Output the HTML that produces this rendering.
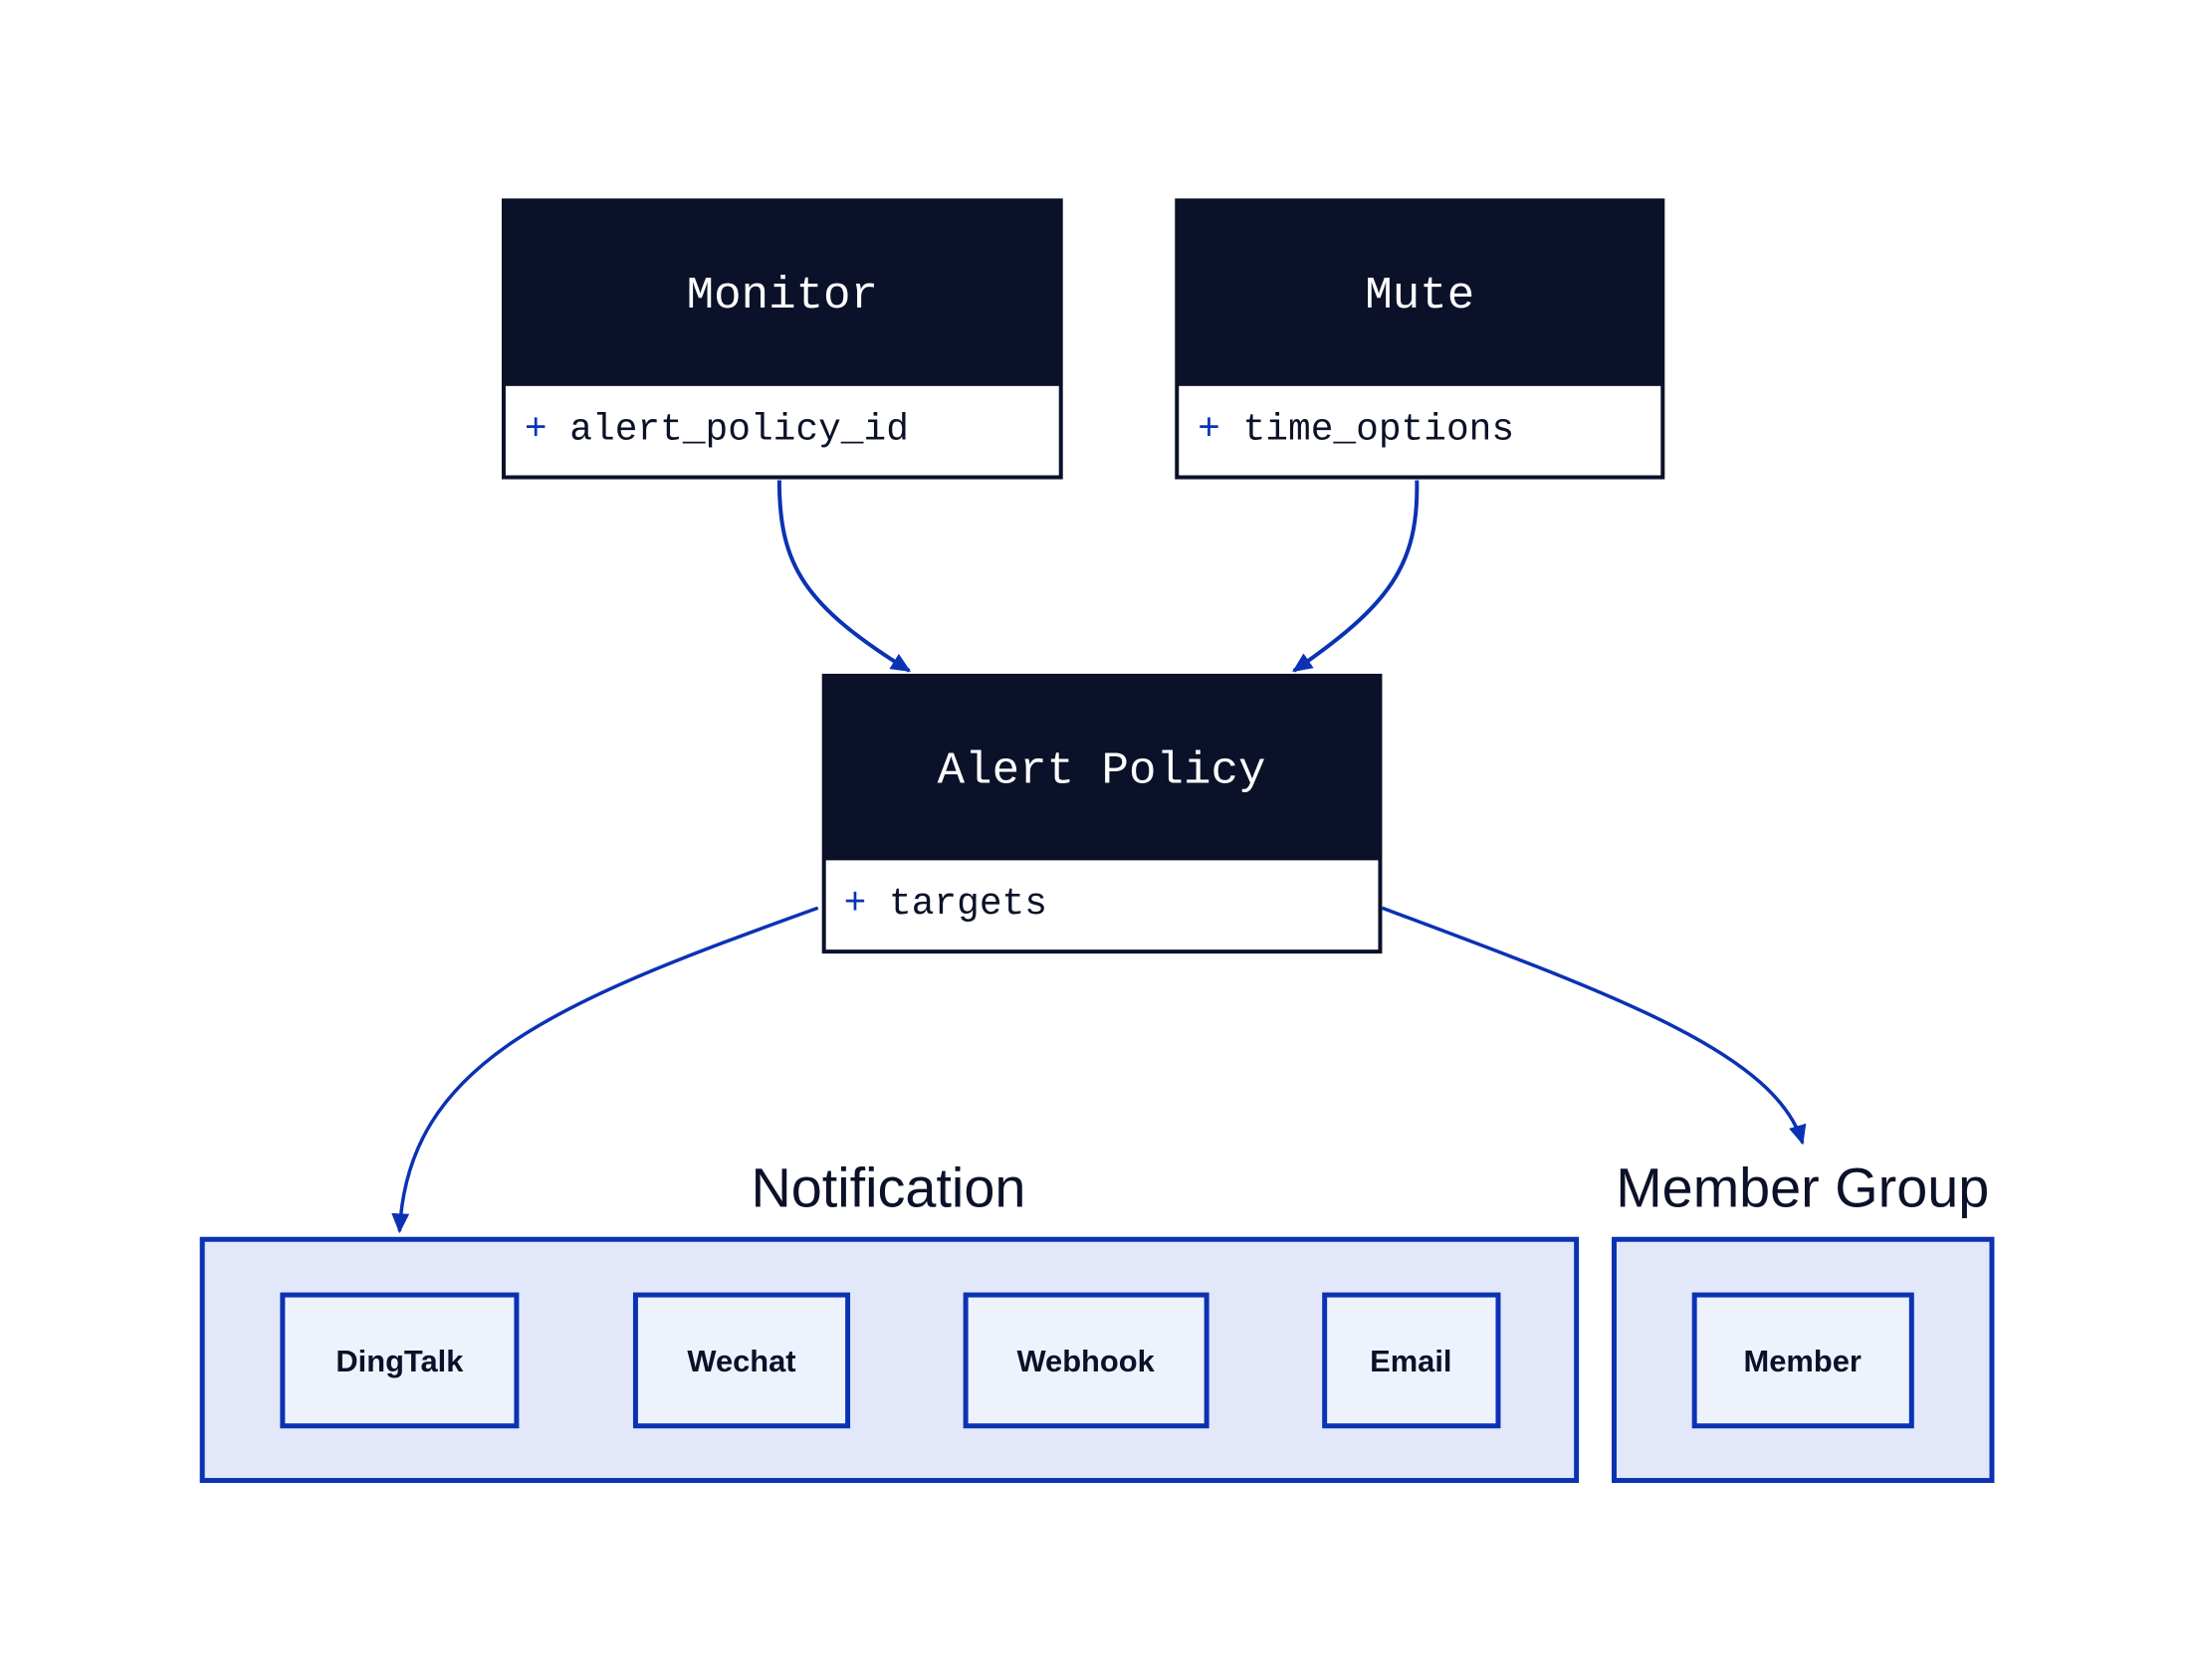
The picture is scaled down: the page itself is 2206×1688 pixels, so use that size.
<!DOCTYPE html>
<html><head><meta charset="utf-8"><style>
html,body{margin:0;padding:0;background:#fff}
svg{display:block}
.mono{font-family:"Liberation Mono","DejaVu Sans Mono",monospace}
.hand{font-family:"Liberation Sans Narrow","Liberation Sans",sans-serif}
</style></head><body>
<svg width="2206" height="1688" viewBox="0 0 2206 1688" xmlns="http://www.w3.org/2000/svg">
<defs>
<marker id="ah" markerWidth="20" markerHeight="18" refX="18" refY="9" orient="auto" markerUnits="userSpaceOnUse">
<path d="M0,0 L20,9 L0,18 z" fill="#0b32b4"/>
</marker>
</defs>
<g transform="translate(1,0) scale(0.996,0.997)">
<rect x="507" y="202" width="562" height="279" fill="#fff" stroke="#0b1128" stroke-width="4"/>
<rect x="507" y="202" width="562" height="187" fill="#0b1128"/>
<text x="788" y="310" class="mono" font-size="46" fill="#fff" text-anchor="middle">Monitor</text>
<text x="528" y="443" class="mono" font-size="38" fill="#0b1128"><tspan fill="#0b32b4">+</tspan> alert_policy_id</text>
<rect x="1186" y="202" width="490" height="279" fill="#fff" stroke="#0b1128" stroke-width="4"/>
<rect x="1186" y="202" width="490" height="187" fill="#0b1128"/>
<text x="1431" y="310" class="mono" font-size="46" fill="#fff" text-anchor="middle">Mute</text>
<text x="1207" y="443" class="mono" font-size="38" fill="#0b1128"><tspan fill="#0b32b4">+</tspan> time_options</text>
<rect x="830" y="681" width="561" height="278" fill="#fff" stroke="#0b1128" stroke-width="4"/>
<rect x="830" y="681" width="561" height="186" fill="#0b1128"/>
<text x="1110" y="789" class="mono" font-size="46" fill="#fff" text-anchor="middle">Alert Policy</text>
<text x="850" y="921" class="mono" font-size="38" fill="#0b1128"><tspan fill="#0b32b4">+</tspan> targets</text>
<g fill="none" stroke="#0b32b4" stroke-width="4">
<path d="M785,484 C785,570 810,610 916,676" marker-end="url(#ah)"/>
<path d="M1428,484 C1430,570 1400,610 1304,676" marker-end="url(#ah)"/>
<path d="M824,915 C560,1010 410,1070 402,1241" marker-end="url(#ah)" stroke-width="3.5"/>
<path d="M1393,915 C1620,1000 1790,1060 1817,1152" marker-end="url(#ah)" stroke-width="3.5"/>
</g>
<text x="895" y="1216" class="hand" font-size="56" fill="#0b1128" text-anchor="middle">Notification</text>
<text x="1817" y="1216" class="hand" font-size="56" fill="#0b1128" text-anchor="middle">Member Group</text>
<rect x="203" y="1249" width="1386" height="243" fill="#e2e8f9" stroke="#0b32b4" stroke-width="5"/>
<rect x="1627" y="1249" width="381" height="243" fill="#e2e8f9" stroke="#0b32b4" stroke-width="5"/>
<g fill="#eef2fd" stroke="#0b32b4" stroke-width="5">
<rect x="284" y="1305" width="236" height="132"/>
<rect x="640" y="1305" width="214" height="132"/>
<rect x="973" y="1305" width="243" height="132"/>
<rect x="1335" y="1305" width="175" height="132"/>
<rect x="1708" y="1305" width="219" height="132"/>
</g>
<g class="hand" font-size="31" font-weight="bold" fill="#0b1128" text-anchor="middle">
<text x="402" y="1382">DingTalk</text>
<text x="747" y="1382">Wechat</text>
<text x="1094" y="1382">Webhook</text>
<text x="1422" y="1382">Email</text>
<text x="1817" y="1382">Member</text>
</g>
</g>
</svg>
</body></html>
